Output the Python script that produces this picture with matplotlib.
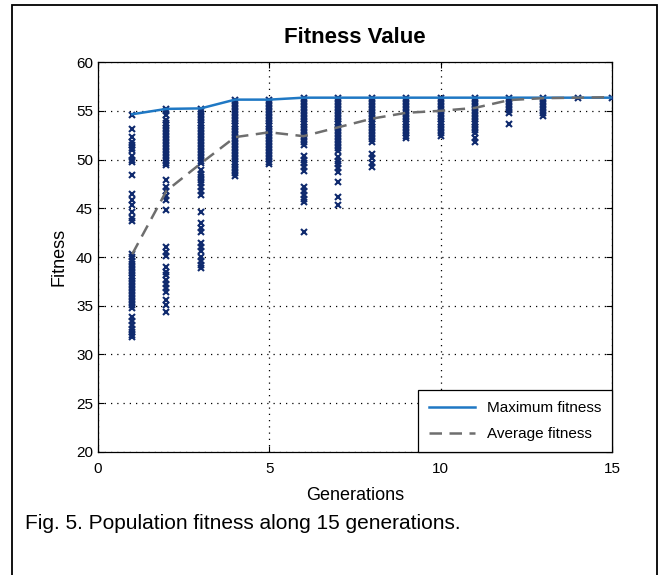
## Population fitness chart (GA run, 15 generations)

import numpy as np
import matplotlib
matplotlib.use("Agg")
import matplotlib.pyplot as plt
from matplotlib.patches import Rectangle

plt.rcParams['font.family'] = ['Liberation Sans', 'DejaVu Sans']

## Data

generations = [1, 2, 3, 4, 5, 6, 7, 8, 9, 10, 11, 12, 13, 14, 15]
max_fitness = [54.65, 55.2, 55.25, 56.15, 56.15, 56.35, 56.35, 56.35, 56.35, 56.35,
               56.35, 56.35, 56.35, 56.35, 56.35]
avg_fitness = [40.3, 46.8, 49.6, 52.3, 52.8, 52.4, 53.3, 54.2, 54.8, 55.0,
               55.3, 56.1, 56.3, 56.35, 56.4]

gen1_fit = [54.6, 53.1, 52.3, 51.8, 51.5, 51.2, 51.0, 50.4, 50.0, 49.7, 48.4, 46.5,
            45.8, 45.3, 44.6, 44.0, 43.7, 40.3, 40.0, 39.6, 39.3, 39.0, 38.7, 38.4,
            38.1, 37.8, 37.5, 37.2, 36.9, 36.6, 36.3, 36.0, 35.7, 35.4, 35.1, 34.8,
            33.8, 33.4, 33.0, 32.6, 32.3, 32.0, 31.8]
gen2_fit = [55.2, 55.0, 54.6, 54.1, 53.8, 53.5, 53.2, 52.9, 52.6, 52.3, 52.0, 51.7,
            51.4, 51.1, 50.8, 50.5, 50.2, 49.9, 49.6, 49.4, 47.9, 47.2, 46.8, 46.3,
            45.8, 44.8, 41.0, 40.5, 40.1, 39.0, 38.5, 38.2, 37.6, 37.2, 36.8, 36.4,
            35.6, 35.1, 34.4]
gen3_fit = [55.2, 55.0, 54.7, 54.4, 54.1, 53.8, 53.5, 53.2, 52.9, 52.6, 52.3, 52.0,
            51.7, 51.4, 51.1, 50.8, 50.5, 50.2, 49.9, 49.6, 48.9, 48.5, 48.2, 47.9,
            47.6, 47.2, 46.8, 46.4, 44.6, 43.5, 43.0, 42.6, 41.4, 41.0, 40.6, 40.0,
            39.6, 39.2, 38.9]
gen4_fit = [56.1, 55.8, 55.5, 55.2, 54.9, 54.6, 54.3, 54.0, 53.7, 53.4, 53.1, 52.8,
            52.5, 52.2, 51.9, 51.6, 51.3, 51.0, 50.7, 50.4, 50.1, 49.8, 49.5, 49.2,
            48.9, 48.6, 48.3]
gen5_fit = [56.1, 55.8, 55.5, 55.2, 54.9, 54.6, 54.3, 54.0, 53.7, 53.4, 53.1, 52.8,
            52.5, 52.2, 51.9, 51.6, 51.3, 51.0, 50.7, 50.4, 50.1, 49.8, 49.5]
gen6_fit = [56.3, 56.0, 55.7, 55.4, 55.1, 54.8, 54.5, 54.2, 53.9, 53.6, 53.3, 53.0,
            52.7, 52.4, 52.1, 51.8, 51.5, 50.4, 50.0, 49.6, 49.2, 48.8, 47.2, 46.8,
            46.4, 46.0, 45.6, 42.6]
gen7_fit = [56.3, 56.0, 55.7, 55.4, 55.1, 54.8, 54.5, 54.2, 53.9, 53.6, 53.3, 53.0,
            52.7, 52.4, 52.1, 51.8, 51.5, 51.2, 50.9, 50.3, 49.9, 49.5, 49.1, 48.7,
            47.7, 46.2, 45.3]
gen8_fit = [56.3, 56.0, 55.7, 55.4, 55.1, 54.8, 54.5, 54.2, 53.9, 53.6, 53.3, 53.0,
            52.7, 52.4, 52.1, 51.8, 50.6, 50.2, 49.6, 49.2]
gen9_fit = [56.3, 56.0, 55.7, 55.4, 55.1, 54.8, 54.5, 54.2, 53.9, 53.6, 53.3, 53.0,
            52.7, 52.4, 52.2]
gen10_fit = [56.3, 56.0, 55.7, 55.4, 55.1, 54.8, 54.5, 54.2, 53.9, 53.6, 53.3, 53.0,
             52.7, 52.4]
gen11_fit = [56.3, 56.0, 55.7, 55.4, 55.1, 54.8, 54.5, 54.2, 53.9, 53.6, 53.3, 53.0,
             52.7, 52.2, 51.8]
gen12_fit = [56.3, 56.0, 55.7, 55.4, 55.1, 54.8, 53.7]
gen13_fit = [56.3, 56.0, 55.7, 55.4, 55.1, 54.8, 54.5]
gen14_fit = [56.3]
gen15_fit = [56.3]

population = [gen1_fit, gen2_fit, gen3_fit, gen4_fit, gen5_fit, gen6_fit, gen7_fit,
              gen8_fit, gen9_fit, gen10_fit, gen11_fit, gen12_fit, gen13_fit,
              gen14_fit, gen15_fit]

x_ticks = [0, 5, 10, 15]
y_ticks = [20, 25, 30, 35, 40, 45, 50, 55, 60]

## Figure

fig = plt.figure(figsize=(6.71, 5.75), dpi=100)

# outer frame around figure + caption
fig.patches.append(Rectangle((0.018, -0.05), 0.961, 1.041, transform=fig.transFigure,
                             fill=False, edgecolor='black', linewidth=1.3))

ax = fig.add_axes([0.146, 0.214, 0.766, 0.678])

for g, vals in zip(generations, population):
    ax.plot([g] * len(vals), vals, linestyle='none', marker='x', color='#0f2a6e',
            markersize=5, markeredgewidth=1.5, zorder=3)

ax.plot(generations, max_fitness, color='#1f78c4', linewidth=1.8,
        label='Maximum fitness', zorder=4)
ax.plot(generations, avg_fitness, color='#6e6e6e', linewidth=1.8, linestyle=(0, (5, 3)),
        label='Average fitness', zorder=4)

ax.set_xlim(0, 15)
ax.set_ylim(20, 60)
ax.set_xticks(x_ticks)
ax.set_yticks(y_ticks)
ax.tick_params(direction='in', length=4, labelsize=11, top=True, right=True)
ax.tick_params(axis='x', pad=7)
ax.grid(True, linestyle=(0, (1, 4)), color='black', linewidth=0.9)
for s in ax.spines.values():
    s.set_linewidth(0.9)

ax.set_title('Fitness Value', fontsize=16, fontweight='bold', pad=14)
ax.set_xlabel('Generations', fontsize=13, labelpad=8)
ax.set_ylabel('Fitness', fontsize=13, labelpad=6)

leg = ax.legend(loc='lower right', fontsize=11, fancybox=False, framealpha=1,
                edgecolor='black', borderaxespad=0, handlelength=3.0,
                borderpad=0.7, labelspacing=0.8)
leg.get_frame().set_linewidth(0.9)

fig.text(0.037, 0.08, 'Fig. 5. Population fitness along 15 generations.',
         fontsize=15)

fig.savefig('out.png', dpi=100)
